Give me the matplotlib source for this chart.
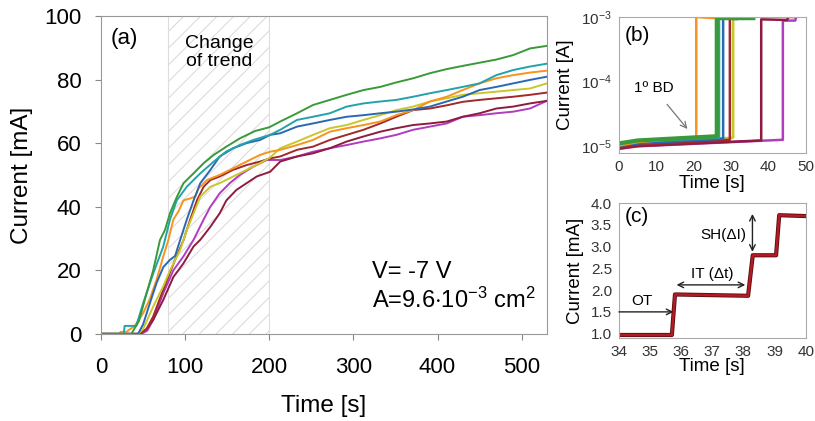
import matplotlib
matplotlib.use("Agg")
import matplotlib.pyplot as plt

plt.rcParams['font.family'] = ['Liberation Sans', 'DejaVu Sans']
plt.rcParams['mathtext.fontset'] = 'custom'
plt.rcParams['mathtext.rm'] = 'Liberation Sans'
plt.rcParams['mathtext.it'] = 'Liberation Sans:italic'
plt.rcParams['hatch.linewidth'] = 0.7

# ---------------- panel (a) data ----------------
green_t = [0, 36, 45, 53, 62, 70, 76, 82, 90, 98, 110, 122, 134, 149, 165, 183, 200, 213, 233, 252, 272, 292, 312, 332, 351, 371, 391, 411, 430, 450, 470, 490, 510, 530]
green_i = [0, 0, 4, 11.7, 20, 29.5, 32.7, 38, 43, 47.4, 50.5, 53.7, 56.3, 58.9, 61.5, 63.8, 65, 66.8, 69.4, 72.0, 73.6, 75.2, 76.7, 77.7, 79.1, 80.4, 82, 83.3, 84.3, 85.3, 86.3, 87.7, 89.8, 90.6]

teal_t = [0, 27, 28, 42, 43, 50, 62, 74, 82, 90, 102, 118, 134, 149, 165, 181, 201, 213, 233, 252, 272, 292, 312, 332, 351, 371, 391, 411, 430, 450, 470, 490, 510, 530]
teal_i = [0, 0, 2.5, 2.5, 3.5, 9.6, 19, 27.5, 36, 42, 46.3, 50.5, 54.2, 57.4, 59.4, 61, 62.6, 64.2, 67.3, 68.3, 69.4, 71.5, 72.5, 73.1, 73.6, 74.6, 75.7, 76.7, 77.7, 78.8, 81.4, 83, 84.1, 85]

blue_t = [0, 44, 50, 58, 66, 74, 82, 88, 94, 102, 110, 118, 130, 141, 157, 173, 189, 201, 213, 233, 252, 272, 292, 312, 332, 351, 371, 391, 411, 430, 450, 470, 490, 510, 530]
blue_i = [0, 0, 3, 9.6, 16, 21, 23.3, 24.5, 29.5, 36, 42, 47.4, 51.6, 55.8, 58.4, 60, 61, 62.6, 63.1, 65.2, 66.2, 67.3, 68.3, 68.8, 69.4, 69.9, 70.6, 71.5, 73.1, 74.6, 76.7, 77.7, 78.8, 79.9, 80.9]

orange_t = [0, 22, 23, 30, 32, 40, 50, 58, 66, 74, 80, 86, 92, 98, 106, 112, 116, 126, 141, 157, 173, 189, 201, 213, 233, 252, 272, 292, 312, 332, 351, 371, 391, 411, 430, 450, 470, 490, 510, 530]
orange_i = [0, 0, 0.6, 0.6, 1, 2.5, 6.5, 11, 17, 24.4, 29.5, 36, 38.5, 42, 42.6, 43.2, 45.8, 48.4, 50, 52.1, 54.2, 56.3, 57.3, 57.9, 59.4, 61, 63.6, 64.7, 65.7, 66.8, 68.8, 70.4, 73.1, 74.6, 76.7, 78.8, 80.4, 81.4, 82.2, 82.8]

yellow_t = [0, 44, 50, 62, 74, 82, 94, 102, 110, 118, 130, 141, 157, 173, 189, 201, 213, 233, 252, 272, 292, 312, 332, 351, 371, 391, 411, 430, 450, 470, 490, 510, 530]
yellow_i = [0, 0, 1.5, 8.6, 15, 20, 26.4, 32.7, 37.9, 43.2, 46.3, 47.4, 49.5, 51.6, 53.7, 55.5, 58.4, 60.5, 62.6, 64.7, 65.7, 67.3, 68.8, 70.4, 71.5, 73.1, 74.1, 75.2, 75.7, 76.2, 76.7, 77.2, 78.8]

darkred_t = [0, 46, 54, 62, 74, 86, 98, 106, 114, 122, 130, 141, 157, 173, 189, 201, 213, 233, 252, 272, 292, 312, 332, 351, 371, 391, 411, 430, 450, 470, 490, 510, 530]
darkred_i = [0, 0, 1.5, 5.5, 14, 22, 29.5, 36, 42, 46.3, 48.4, 49.5, 51.6, 53.1, 54.2, 55.2, 55.8, 57.9, 58.9, 61, 62.6, 64.2, 66.2, 68.3, 70.4, 70.9, 71.9, 73.0, 73.6, 74.1, 74.6, 75.2, 75.9]

crimson_t = [0, 46, 54, 62, 74, 86, 98, 110, 118, 130, 141, 149, 161, 173, 185, 201, 213, 233, 252, 272, 292, 312, 332, 351, 371, 391, 411, 430, 450, 470, 490, 510, 530]
crimson_i = [0, 0, 1.5, 4.4, 10.7, 17.9, 22.2, 27.5, 29.6, 33.7, 37.9, 42, 45.3, 47.4, 49.5, 51, 54.2, 55.8, 56.8, 58.4, 60.5, 62.1, 63.6, 64.7, 65.7, 66.2, 66.8, 68.3, 69.4, 70.9, 71.5, 72.5, 73.3]

magenta_t = [0, 48, 55, 62, 74, 86, 98, 110, 122, 130, 141, 153, 165, 181, 197, 213, 233, 252, 272, 292, 312, 332, 351, 371, 391, 411, 430, 450, 470, 490, 510, 530]
magenta_i = [0, 0, 1, 4.4, 12.8, 20, 24.4, 29.6, 36, 40, 44.2, 47.4, 50, 52.6, 54.7, 54.7, 55.8, 57.3, 58.4, 59.4, 60.5, 61.5, 62.6, 64.2, 65.2, 66.2, 68.3, 68.8, 69.4, 69.9, 70.9, 73.3]

# ---------------- panel (b) data ----------------
b_orange_t = [0, 5, 20.7, 20.7, 26, 29]
b_orange_i = [1.02e-5, 1.15e-5, 1.38e-5, 1.0e-3, 9.6e-4, 9.6e-4]
b_green_t = [0, 5, 26.2, 26.2, 36]
b_green_i = [1.1e-5, 1.22e-5, 1.42e-5, 9.6e-4, 9.6e-4]
b_teal_t = [0, 5, 26.8, 26.8, 33]
b_teal_i = [1.05e-5, 1.17e-5, 1.35e-5, 9.7e-4, 9.6e-4]
b_blue_t = [0, 5, 27.9, 27.9, 31.5]
b_blue_i = [1.0e-5, 1.1e-5, 1.3e-5, 9.5e-4, 9.3e-4]
b_darkred_t = [0, 5, 29.7, 29.7, 31]
b_darkred_i = [9.6e-6, 1.05e-5, 1.25e-5, 1.0e-3, 1.0e-3]
b_yellow_t = [0, 5, 30.6, 30.6, 32]
b_yellow_i = [1.0e-5, 1.1e-5, 1.35e-5, 9.8e-4, 9.8e-4]
b_maroon_t = [0, 5, 38.1, 38.1, 45, 45.4, 47]
b_maroon_i = [9.2e-6, 1.0e-5, 1.22e-5, 9.2e-4, 9.0e-4, 1.0e-3, 1.0e-3]
b_magenta_t = [0, 5, 43.9, 43.9, 47.2, 47.5]
b_magenta_i = [9.0e-6, 9.9e-6, 1.25e-5, 8.8e-4, 8.8e-4, 1.0e-3]

# ---------------- panel (c) data ----------------
c_t = [34, 35.7, 35.8, 38.15, 38.3, 39.05, 39.15, 40]
c_i = [0.97, 0.97, 1.9, 1.87, 2.8, 2.8, 3.72, 3.7]

col = {
    'green': '#3a9a3a', 'teal': '#22a3aa', 'blue': '#2b68b3', 'orange': '#f7941d',
    'yellow': '#c8c82a', 'darkred': '#a3282b', 'crimson': '#8e1c3e', 'magenta': '#b03cc0',
}

fig = plt.figure(figsize=(8.15, 4.21), dpi=100)

# ---------------- (a) ----------------
ax = fig.add_axes([0.124, 0.207, 0.547, 0.755])
ax.axvspan(80, 200, facecolor='none', edgecolor='#d8d8d8', hatch='//', linewidth=0)
ax.axvline(80, color='#dddddd', lw=0.8)
ax.axvline(200, color='#dddddd', lw=0.8)
series_a = [
    (magenta_t, magenta_i, 'magenta'), (crimson_t, crimson_i, 'crimson'),
    (darkred_t, darkred_i, 'darkred'), (yellow_t, yellow_i, 'yellow'),
    (orange_t, orange_i, 'orange'), (blue_t, blue_i, 'blue'),
    (teal_t, teal_i, 'teal'), (green_t, green_i, 'green'),
]
for t, i, c in series_a:
    ax.plot(t, i, color=col[c], lw=1.4)
ax.set_xlim(0, 530)
ax.set_ylim(0, 100)
ax.set_xticks([0, 100, 200, 300, 400, 500])
ax.set_yticks([0, 20, 40, 60, 80, 100])
ax.tick_params(direction='out', length=4, color='#888888', labelsize=16)
ax.tick_params(axis='x', pad=13)
ax.tick_params(axis='y', pad=10)
for s in ax.spines.values():
    s.set_color('#999999')
ax.set_xlabel('Time [s]', fontsize=17.5, labelpad=12)
ax.set_ylabel('Current [mA]', fontsize=17.5, labelpad=8)
ax.text(11, 93, '(a)', fontsize=16, va='center', ha='left')
ax.text(141, 88.5, 'Change\nof trend', fontsize=14, ha='center', va='center', linespacing=1.1)
ax.text(322, 19.5, 'V= -7 V', fontsize=17, ha='left', va='center')
ax.text(322, 10.5, r'A=9.6$\cdot$10$^{-3}$ cm$^{2}$', fontsize=17, ha='left', va='center')

# ---------------- (b) ----------------
axb = fig.add_axes([0.7595, 0.6366, 0.229, 0.323])
series_b = [
    (b_magenta_t, b_magenta_i, 'magenta'), (b_maroon_t, b_maroon_i, 'crimson'),
    (b_yellow_t, b_yellow_i, 'yellow'), (b_darkred_t, b_darkred_i, 'darkred'),
    (b_blue_t, b_blue_i, 'blue'), (b_teal_t, b_teal_i, 'teal'),
    (b_orange_t, b_orange_i, 'orange'), (b_green_t, b_green_i, 'green'),
]
for t, i, c in series_b:
    lw = 3.0 if c == 'green' else 1.8
    axb.plot(t, i, color=col[c], lw=lw)
axb.set_yscale('log')
axb.set_xlim(0, 50)
axb.set_ylim(7.8e-6, 1.0e-3)
axb.set_xticks([0, 10, 20, 30, 40, 50])
axb.set_yticks([1e-5, 1e-4, 1e-3])
axb.minorticks_off()
axb.tick_params(direction='in', length=0, labelsize=11, pad=5, colors='#333333')
for s in axb.spines.values():
    s.set_color('#aaaaaa')
axb.set_xlabel('Time [s]', fontsize=13.5, labelpad=0.5)
axb.set_ylabel('Current [A]', fontsize=13.5, labelpad=5)
axb.text(1.5, 5.2e-4, '(b)', fontsize=15, va='center', ha='left')
axb.annotate('1º BD', xy=(18.8, 1.7e-5), xytext=(9.3, 7.9e-5), fontsize=11,
             ha='center', va='center',
             arrowprops=dict(arrowstyle='->', color='#777777', lw=0.9, shrinkA=6))

# ---------------- (c) ----------------
axc = fig.add_axes([0.7595, 0.1971, 0.229, 0.3207])
axc.plot(c_t, c_i, color='#5a0a10', lw=3.0)
axc.plot(c_t, c_i, color='#b01c24', lw=1.8)
axc.set_xlim(34, 40)
axc.set_ylim(0.9, 4.0)
axc.set_xticks([34, 35, 36, 37, 38, 39, 40])
axc.set_yticks([1.0, 1.5, 2.0, 2.5, 3.0, 3.5, 4.0])
axc.set_yticklabels(['1.0', '1.5', '2.0', '2.5', '3.0', '3.5', '4.0'])
axc.tick_params(direction='in', length=0, labelsize=11, pad=5, colors='#333333')
for s in axc.spines.values():
    s.set_color('#aaaaaa')
axc.set_xlabel('Time [s]', fontsize=13.5, labelpad=-1)
axc.set_ylabel('Current [mA]', fontsize=13.5, labelpad=5)
axc.text(34.2, 3.68, '(c)', fontsize=15, va='center', ha='left')
axc.annotate('', xy=(35.75, 1.5), xytext=(34.0, 1.5),
             arrowprops=dict(arrowstyle='->', color='#222222', lw=1.0, shrinkA=0, shrinkB=0))
axc.text(34.75, 1.75, 'OT', fontsize=11, ha='center', va='center')
axc.annotate('', xy=(35.85, 2.12), xytext=(38.06, 2.12),
             arrowprops=dict(arrowstyle='<->', color='#222222', lw=1.0, shrinkA=0, shrinkB=0))
axc.text(37.0, 2.37, 'IT (Δt)', fontsize=11, ha='center', va='center')
axc.annotate('', xy=(38.29, 3.75), xytext=(38.29, 2.88),
             arrowprops=dict(arrowstyle='<->', color='#222222', lw=1.0, shrinkA=0, shrinkB=0))
axc.text(37.35, 3.26, 'SH(ΔI)', fontsize=11, ha='center', va='center')

fig.savefig('out.png', dpi=100)
